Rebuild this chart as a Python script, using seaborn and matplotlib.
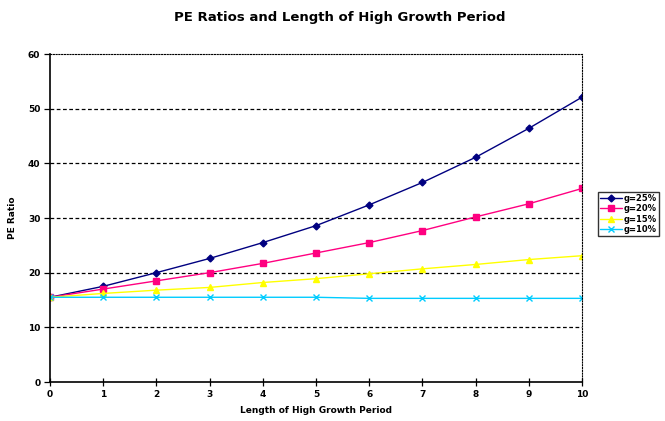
import matplotlib
matplotlib.use("Agg")
import matplotlib.pyplot as plt
import seaborn as sns
import pandas as pd

years = [0, 1, 2, 3, 4, 5, 6, 7, 8, 9, 10]
g25 = [15.5, 17.5, 20.0, 22.6, 25.5, 28.6, 32.4, 36.5, 41.1, 46.4, 52.1]
g20 = [15.5, 17.0, 18.5, 20.0, 21.7, 23.6, 25.5, 27.7, 30.2, 32.6, 35.4]
g15 = [15.5, 16.2, 16.8, 17.3, 18.2, 18.9, 19.8, 20.7, 21.5, 22.4, 23.1]
g10 = [15.5, 15.5, 15.5, 15.5, 15.5, 15.5, 15.3, 15.3, 15.3, 15.3, 15.3]
series_names = ["g=25%", "g=20%", "g=15%", "g=10%"]
yticks = [0, 10, 20, 30, 40, 50, 60]

sns.set_theme(style="white")
plt.rcParams['font.family'] = ['DejaVu Sans']
plt.rcParams['text.color'] = 'black'
plt.rcParams['axes.labelcolor'] = 'black'
plt.rcParams['xtick.color'] = 'black'
plt.rcParams['ytick.color'] = 'black'

fig = plt.figure(figsize=(6.65, 4.21), dpi=100)
ax = fig.add_axes([50/665, 1 - 382/421, (582 - 50)/665, (382 - 54)/421])

colors = ["#000080", "#ff0080", "#ffff00", "#00ccff"]
markers = ["D", "s", "^", "x"]
msizes = [3.5, 4.5, 5, 5]

for name, vals, c, m, ms in zip(series_names, [g25, g20, g15, g10], colors, markers, msizes):
    df = pd.DataFrame({"year": years, "pe": vals})
    sns.lineplot(data=df, x="year", y="pe", color=c, marker=m, markersize=ms,
                 markeredgecolor=c, markeredgewidth=1.0, linewidth=1.0,
                 label=name, ax=ax)

ax.set_xlim(0, 10)
ax.set_ylim(0, 60)
ax.set_xticks(years)
ax.set_yticks(yticks)
ax.set_xticklabels([str(v) for v in years], fontsize=6.5, fontweight="bold")
ax.set_yticklabels([str(v) for v in yticks], fontsize=6.5, fontweight="bold")

for y in [10, 20, 30, 40, 50]:
    ax.axhline(y, color="black", linestyle=(0, (3, 2)), linewidth=0.9, zorder=0.5)

for side in ["left", "bottom"]:
    ax.spines[side].set_color("black")
    ax.spines[side].set_linewidth(1.2)
for side in ["top", "right"]:
    ax.spines[side].set_color("black")
    ax.spines[side].set_linewidth(0.8)
    ax.spines[side].set_linestyle((0, (1, 1.5)))

ax.tick_params(axis="x", direction="inout", length=6, width=0.9, color="black", pad=3)
ax.tick_params(axis="y", direction="out", length=4, width=0.9, color="black", pad=3)
ax.tick_params(bottom=True, left=True)

ax.set_xlabel("Length of High Growth Period", fontsize=6.5, fontweight="bold", labelpad=5)
ax.set_ylabel("PE Ratio", fontsize=6.5, fontweight="bold", labelpad=8)
fig.text(340/665, 1 - 17/421, "PE Ratios and Length of High Growth Period",
         ha="center", va="center", fontsize=9.5, fontweight="bold")

leg = ax.legend(loc="upper left", bbox_to_anchor=(598/665, 1 - 192/421),
                bbox_transform=fig.transFigure, fontsize=6, frameon=True,
                handlelength=2.6, handletextpad=0.2, borderpad=0.25,
                labelspacing=0.15, fancybox=False, borderaxespad=0)
leg.get_frame().set_edgecolor("black")
leg.get_frame().set_linewidth(1.0)
for t in leg.get_texts():
    t.set_fontweight("bold")

fig.savefig("out.png", dpi=100)
